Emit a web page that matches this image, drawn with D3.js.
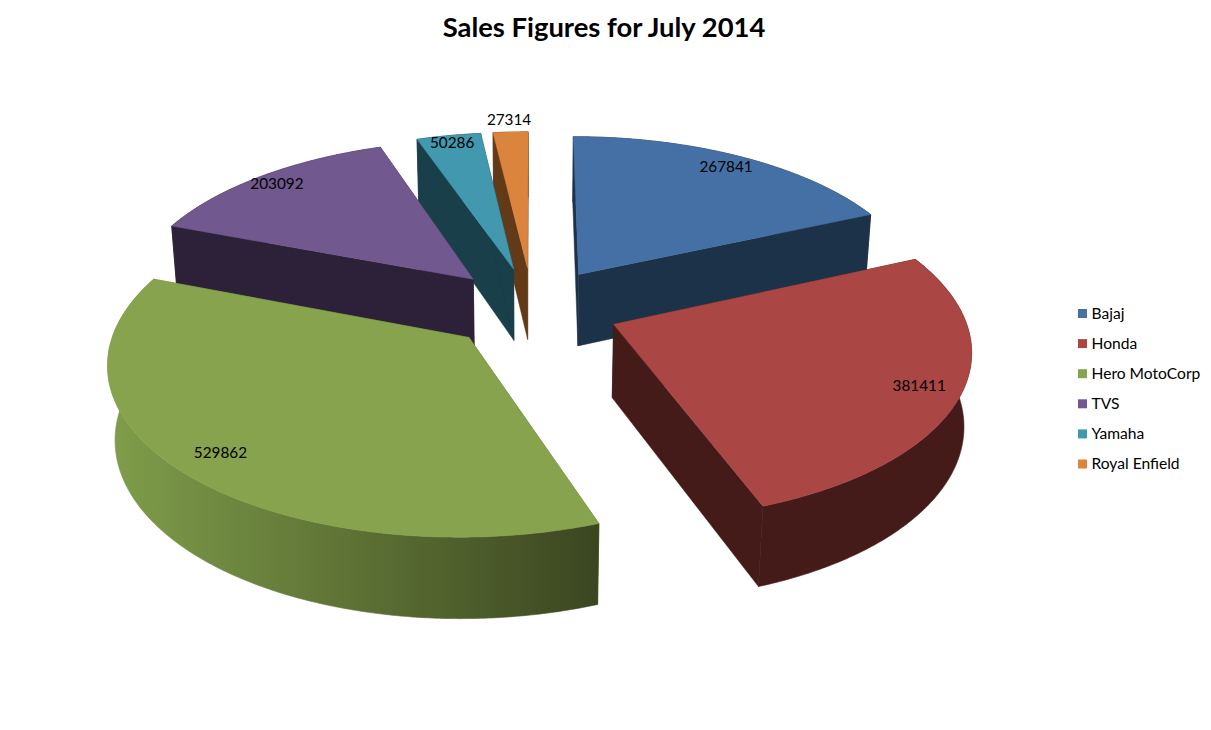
<!DOCTYPE html>
<html>
<head>
<meta charset="utf-8">
<script src="https://cdn.jsdelivr.net/npm/d3@7"></script>
<style>html,body{margin:0;padding:0;background:#fff}svg{display:block}text{font-family:Lato,"Open Sans",sans-serif;fill:#000}</style>
</head>
<body>
<svg id="c" width="1211" height="730"></svg>
<script>
const titleText = "Sales Figures for July 2014";
const categories = ["Bajaj","Honda","Hero MotoCorp","TVS","Yamaha","Royal Enfield"];
const salesValues = [267841,381411,529862,203092,50286,27314];
const topColors = ["#4470a5","#aa4643","#87a34d","#71588f","#4198af","#db843d"];
const wallColors = ["#1c3249","#451b19","#5f7a36","#2c2139","#193f4b","#623a18"];
const labelRadii = [0.90,0.885,0.875,0.92,0.94,1.10];
const drawOrder = [0,5,4,3,1,2];

const cx=532.5, cy=308, R=348.5, explode=87, depth=84, tilt=Math.asin(0.472), focal=2307;
const svg=d3.select("#c");
const defs=svg.append("defs");
const grad=defs.append("linearGradient").attr("id","heroWall").attr("gradientUnits","userSpaceOnUse")
  .attr("x1",110).attr("x2",598).attr("y1",0).attr("y2",0);
grad.append("stop").attr("offset",0).attr("stop-color","#7f9d4a");
grad.append("stop").attr("offset",1).attr("stop-color","#3b4620");

function project(x,y,z){
  const yc=y*Math.sin(tilt)+z*Math.cos(tilt);
  const zc=y*Math.cos(tilt)-z*Math.sin(tilt);
  const s=focal/(focal+zc);
  return [cx+x*s, cy-yc*s];
}
const pie=d3.pie().sort(null).startAngle(0).endAngle(2*Math.PI);
const arcs=pie(salesValues);
const line=d3.line().curve(d3.curveLinear);
function slicePts(a){
  const mid=(a.startAngle+a.endAngle)/2;
  const ox=explode*Math.sin(mid), oy=explode*Math.cos(mid);
  return {mid,pt:(ang,rad,z)=>project(ox+rad*Math.sin(ang),oy+rad*Math.cos(ang),z)};
}
function arcAngles(a){
  const n=Math.max(4,Math.ceil((a.endAngle-a.startAngle)/0.01));
  return d3.range(n+1).map(i=>a.startAngle+(a.endAngle-a.startAngle)*i/n);
}
const g=svg.append("g");
drawOrder.forEach(i=>{
  const a=arcs[i], sp=slicePts(a), angs=arcAngles(a);
  const wall=wallColors[i], sl=g.append("g");
  const rad=(ang)=>[sp.pt(ang,0,0),sp.pt(ang,R,0),sp.pt(ang,R,-depth),sp.pt(ang,0,-depth)];
  [a.startAngle,a.endAngle].forEach(ang=>{
    sl.append("path").attr("d",line(rad(ang))+"Z").attr("fill",wall).attr("stroke",wall).attr("stroke-width",0.5);
  });
  const outer=angs.map(t=>sp.pt(t,R,0)).concat(angs.slice().reverse().map(t=>sp.pt(t,R,-depth)));
  const oc=i===2?"url(#heroWall)":wall;
  sl.append("path").attr("d",line(outer)+"Z").attr("fill",oc).attr("stroke",oc).attr("stroke-width",0.6);
  const top=[sp.pt(0,0,0)].concat(angs.map(t=>sp.pt(t,R,0)));
  sl.append("path").attr("d",line(top)+"Z").attr("fill",topColors[i]).attr("stroke",topColors[i]).attr("stroke-width",0.5);
});
arcs.forEach((a,i)=>{
  const sp=slicePts(a);
  const p=sp.pt(sp.mid,R*labelRadii[i],0);
  svg.append("text").attr("x",p[0]).attr("y",p[1]+5).attr("text-anchor","middle")
    .style("font-size","15.3px").text(salesValues[i]);
});
svg.append("text").attr("x",604).attr("y",37).attr("text-anchor","middle")
  .style("font-size","27.4px").style("font-weight","700").text(titleText);
const ly=d3.scalePoint().domain(categories).range([313.5,464]);
categories.forEach((c,i)=>{
  svg.append("rect").attr("x",1078).attr("y",ly(c)-4.5).attr("width",9).attr("height",9).attr("fill",topColors[i]);
  svg.append("text").attr("x",1091.5).attr("y",ly(c)+5).style("font-size","15.6px").text(c);
});
</script>
</body>
</html>
